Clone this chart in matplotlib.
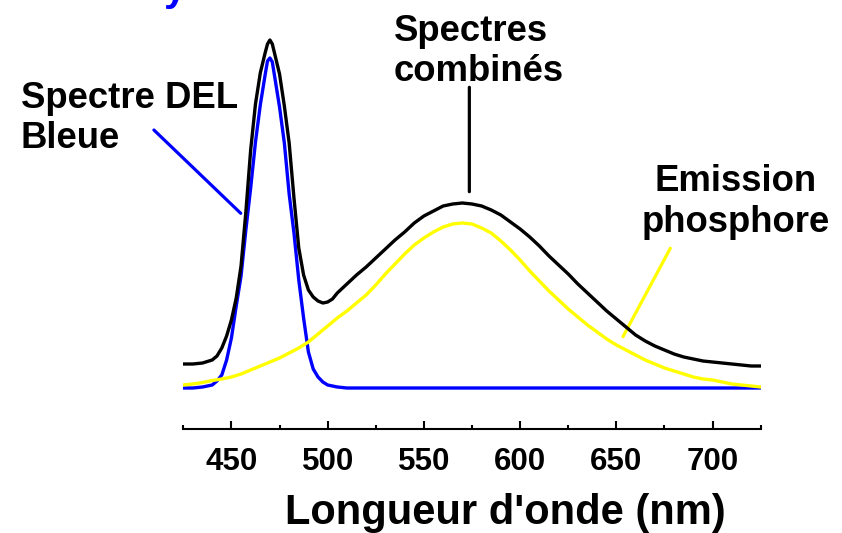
import matplotlib
matplotlib.use("Agg")
import matplotlib.pyplot as plt
from matplotlib.ticker import MultipleLocator

plt.rcParams['font.family'] = ['Liberation Sans', 'DejaVu Sans']
plt.rcParams['font.weight'] = 'bold'

# spectres (unites arbitraires)
blue_nm = [425, 430, 435, 440, 442.5, 445, 447.5, 450, 452.5, 455, 457.5, 460,
           462.5, 465, 467.5, 468.75, 470, 471.25, 472.5, 475, 477.5, 480, 482.5,
           485, 487.5, 490, 492.5, 495, 497.5, 500, 505, 510, 550, 600, 650, 700, 725]
blue = [0, 0, 1, 3, 7, 13, 28, 50, 82, 112, 158, 200,
        246, 283, 313, 327, 330, 326, 311, 281, 245, 194, 155,
        108, 70, 36, 19, 11, 6, 3, 1, 0, 0, 0, 0, 0, 0]

black_nm = [425, 430, 435, 440, 442.5, 445, 447.5, 450, 452.5, 455, 457.5, 460,
            462.5, 465, 467.5, 468.75, 470, 471.25, 472.5, 475, 477.5, 480, 482.5,
            485, 487.5, 490, 492.5, 495, 497.5, 500, 502.5, 505, 510, 515, 520, 525,
            530, 535, 540, 545, 550, 555, 560, 565, 570, 575, 580, 585, 590, 595,
            600, 605, 610, 615, 620, 625, 630, 635, 640, 645, 650, 655, 660, 665,
            670, 675, 680, 685, 690, 695, 700, 705, 710, 715, 720, 725]
black = [24, 24, 25, 28, 32, 40, 52, 68, 90, 122, 176, 238,
         284, 315, 335, 344, 348, 344, 334, 314, 282, 245, 190,
         140, 113, 98, 91, 87, 85, 86, 89, 95, 104, 113, 121, 130,
         139, 148, 156, 165, 172, 177, 182, 184, 185, 184, 182, 178, 173, 166,
         159, 151, 142, 132, 123, 114, 104, 95, 86, 77, 69, 61, 53, 47,
         42, 38, 34, 31, 29, 27, 26, 25, 24, 23, 22, 22]

yellow_nm = list(range(425, 726, 5))
yellow = [3, 4, 5.5, 7.5, 9, 11, 14, 18, 22, 26, 30, 35, 40, 46, 54, 62, 70, 77,
          85, 93, 103, 114, 124, 134, 143, 150, 156, 161, 164, 165, 164, 160, 155,
          147, 138, 128, 117, 107, 97, 88, 79, 71, 63, 56, 49, 43, 38, 33, 28, 24,
          20, 17, 14, 11, 9, 8, 6, 4, 3, 2, 1]

W, H = 842, 533


def fx(px):
    return px / W


def fy(py):
    return 1 - py / H


fig = plt.figure(figsize=(8.42, 5.33), dpi=100)
ax = fig.add_axes([fx(183.3), fy(429.3), (760.7 - 183.3) / W, 429.3 / H])

lw = 2.4
ax.plot(blue_nm, blue, color='#0000ff', lw=lw, solid_joinstyle='round', zorder=2)
ax.plot(yellow_nm, yellow, color='#ffff00', lw=lw, solid_joinstyle='round', zorder=3)
ax.plot(black_nm, black, color='black', lw=lw, solid_joinstyle='round', zorder=4)

ax.set_xlim(425, 725)
ax.set_ylim(-41.3, 388)
for s in ['left', 'right', 'top']:
    ax.spines[s].set_visible(False)
ax.spines['bottom'].set_linewidth(1.5)
ax.set_yticks([])
ax.xaxis.set_major_locator(MultipleLocator(50))
ax.xaxis.set_minor_locator(MultipleLocator(25))
ax.tick_params(axis='x', which='major', direction='in', length=6, width=1.5,
               pad=12.5, labelsize=22.5)
ax.tick_params(axis='x', which='minor', direction='in', length=3, width=1.5)
for lab in ax.get_xticklabels():
    lab.set_fontweight('bold')

ax.set_xlabel("Longueur d'onde (nm)", fontsize=30, fontweight='bold')
ax.xaxis.label.set_va('baseline')
ax.xaxis.set_label_coords((505.3 - 183.3) / 577.4, (429.3 - 524) / 429.3)


def dx(px):
    return 450 + (px - 231.7) / 1.922


def dy(py):
    return 388 - py


# traits de rappel
line_kw = dict(arrowstyle='-', lw=2.3, shrinkA=0, shrinkB=0)
ax.annotate('', xy=(dx(241), dy(213.3)), xytext=(dx(154.3), dy(130)),
            arrowprops=dict(color='#0000ff', **line_kw), annotation_clip=False)
ax.annotate('', xy=(dx(469.3), dy(191.7)), xytext=(dx(469.3), dy(87.3)),
            arrowprops=dict(color='black', **line_kw), annotation_clip=False)
ax.annotate('', xy=(dx(622.7), dy(336.7)), xytext=(dx(670), dy(248.3)),
            arrowprops=dict(color='#ffff00', **line_kw), annotation_clip=False)

# va='baseline' place la derniere ligne
fs = 26.3
fig.text(fx(20.7), fy(148.3), "Spectre DEL\nBleue", fontsize=fs, fontweight='bold',
         ha='left', va='baseline')
fig.text(fx(394), fy(81), "Spectres\ncombinés", fontsize=fs, fontweight='bold',
         ha='left', va='baseline')
fig.text(fx(736), fy(231.7), "Emission\nphosphore", fontsize=fs, fontweight='bold',
         ha='center', va='baseline', multialignment='center')

# reste du titre coupe en haut
fig.text(fx(164), fy(1), "y", fontsize=29, fontweight='bold', color='#0000ff',
         ha='left', va='baseline')

fig.savefig('out.png', dpi=100)
